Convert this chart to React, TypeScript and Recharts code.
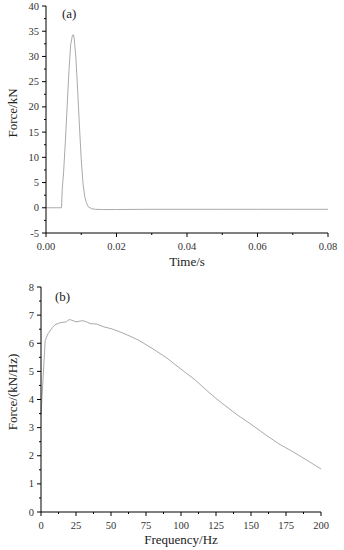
import React from 'react'
import { LineChart, Line, XAxis, YAxis } from 'recharts'

// (a) force-time pulse
const timeS = [0, 0.002, 0.0044, 0.0046, 0.005, 0.0055, 0.006, 0.0065, 0.007, 0.0075, 0.0078, 0.008, 0.0085, 0.009, 0.0095, 0.01, 0.0105, 0.011, 0.0115, 0.012, 0.013, 0.014, 0.016, 0.02, 0.03, 0.04, 0.05, 0.06, 0.07, 0.08]
const forceKN = [0, 0, 0, 3.6, 7.2, 13.2, 20.1, 27, 32.3, 34.2, 34.3, 33.6, 29.5, 23, 16, 9.5, 4.8, 2.2, 0.9, 0.2, -0.2, -0.3, -0.35, -0.35, -0.3, -0.3, -0.3, -0.3, -0.3, -0.3]
const timeMajor = [0, 0.02, 0.04, 0.06, 0.08]
const timeMinor = [0.01, 0.03, 0.05, 0.07]
const timeLabels = ['0.00', '0.02', '0.04', '0.06', '0.08']
const forceMajor = [-5, 0, 5, 10, 15, 20, 25, 30, 35, 40]
const forceMinor = [-2.5, 2.5, 7.5, 12.5, 17.5, 22.5, 27.5, 32.5, 37.5]

// (b) spectrum
const freqHz = [0, 3, 5, 8, 10, 13, 15, 18, 20, 22, 25, 28, 30, 33, 35, 40, 45, 50, 55, 60, 65, 70, 75, 80, 90, 100, 110, 120, 125, 130, 140, 150, 160, 170, 175, 180, 190, 200]
const spectrum = [3.45, 6.1, 6.34, 6.55, 6.66, 6.72, 6.74, 6.76, 6.84, 6.82, 6.76, 6.79, 6.8, 6.75, 6.7, 6.68, 6.58, 6.52, 6.43, 6.33, 6.22, 6.1, 5.95, 5.8, 5.47, 5.08, 4.7, 4.25, 4.04, 3.84, 3.46, 3.12, 2.76, 2.42, 2.28, 2.14, 1.84, 1.53]
const freqMajor = [0, 25, 50, 75, 100, 125, 150, 175, 200]
const freqMinor = [12.5, 37.5, 62.5, 87.5, 112.5, 137.5, 162.5, 187.5]
const specMajor = [0, 1, 2, 3, 4, 5, 6, 7, 8]
const specMinor = [0.5, 1.5, 2.5, 3.5, 4.5, 5.5, 6.5, 7.5]

const pulseData = timeS.map((t, i) => ({ t, f: forceKN[i] }))
const specData = freqHz.map((hz, i) => ({ hz, v: spectrum[i] }))

const FONT = '"Liberation Serif", "DejaVu Serif", serif'

const makeXTick = (majors: number[], labels: string[]) => (props: any) => {
  const { x, y, payload } = props
  const idx = majors.indexOf(payload.value)
  const major = idx >= 0
  return (
    <g>
      <line x1={x} x2={x} y1={y} y2={y + (major ? 4 : 2)} stroke="#000" strokeWidth={1} />
      {major && (
        <text x={x} y={y + 16.5} textAnchor="middle" fontSize={10.5} fill="#333" fontFamily={FONT}>
          {labels[idx]}
        </text>
      )}
    </g>
  )
}

const makeYTick = (majors: number[]) => (props: any) => {
  const { x, y, payload } = props
  const major = majors.indexOf(payload.value) >= 0
  return (
    <g>
      <line x1={x} x2={x - (major ? 4 : 2)} y1={y} y2={y} stroke="#000" strokeWidth={1} />
      {major && (
        <text x={x - 7} y={y + 3.5} textAnchor="end" fontSize={10.5} fill="#333" fontFamily={FONT}>
          {payload.value}
        </text>
      )}
    </g>
  )
}

const label = (extra: React.CSSProperties): React.CSSProperties => ({
  position: 'absolute',
  fontFamily: FONT,
  fontSize: 13,
  color: '#222',
  whiteSpace: 'nowrap',
  lineHeight: '14px',
  ...extra,
})

export default function App() {
  return (
    <div style={{ position: 'absolute', left: 0, top: 0, width: 344, height: 550, background: '#fff' }}>
      <div style={{ position: 'absolute', left: 0, top: 0 }}>
        <LineChart width={344} height={275} data={pulseData} margin={{ top: 6, right: 16, bottom: 0, left: 0 }}>
          <XAxis
            dataKey="t"
            type="number"
            domain={[0, 0.08]}
            ticks={[...timeMajor, ...timeMinor].sort((a, b) => a - b)}
            interval={0}
            tickSize={0}
            tickMargin={0}
            height={42}
            stroke="#000"
            allowDataOverflow
            tick={makeXTick(timeMajor, timeLabels)}
          />
          <YAxis
            type="number"
            domain={[-5, 40]}
            ticks={[...forceMajor, ...forceMinor].sort((a, b) => a - b)}
            interval={0}
            tickSize={0}
            tickMargin={0}
            width={46}
            stroke="#000"
            allowDataOverflow
            tick={makeYTick(forceMajor)}
          />
          <Line type="linear" dataKey="f" stroke="#aaa" strokeWidth={1} dot={false} isAnimationActive={false} />
        </LineChart>
      </div>
      <div style={label({ left: 62, top: 7 })}>(a)</div>
      <div style={label({ left: 187, top: 255, transform: 'translateX(-50%)' })}>Time/s</div>
      <div style={label({ left: 13, top: 113, transform: 'translate(-50%, -50%) rotate(-90deg)' })}>Force/kN</div>

      <div style={{ position: 'absolute', left: 0, top: 275 }}>
        <LineChart width={344} height={275} data={specData} margin={{ top: 12, right: 23, bottom: 0, left: 0 }}>
          <XAxis
            dataKey="hz"
            type="number"
            domain={[0, 200]}
            ticks={[...freqMajor, ...freqMinor].sort((a, b) => a - b)}
            interval={0}
            tickSize={0}
            tickMargin={0}
            height={38}
            stroke="#000"
            tick={makeXTick(freqMajor, freqMajor.map(String))}
          />
          <YAxis
            type="number"
            domain={[0, 8]}
            ticks={[...specMajor, ...specMinor].sort((a, b) => a - b)}
            interval={0}
            tickSize={0}
            tickMargin={0}
            width={41}
            stroke="#000"
            tick={makeYTick(specMajor)}
          />
          <Line type="linear" dataKey="v" stroke="#aaa" strokeWidth={1} dot={false} isAnimationActive={false} />
        </LineChart>
      </div>
      <div style={label({ left: 55, top: 290 })}>(b)</div>
      <div style={label({ left: 181, top: 533, transform: 'translateX(-50%)' })}>Frequency/Hz</div>
      <div style={label({ left: 13, top: 392, transform: 'translate(-50%, -50%) rotate(-90deg)' })}>Force/(kN/Hz)</div>
    </div>
  )
}
